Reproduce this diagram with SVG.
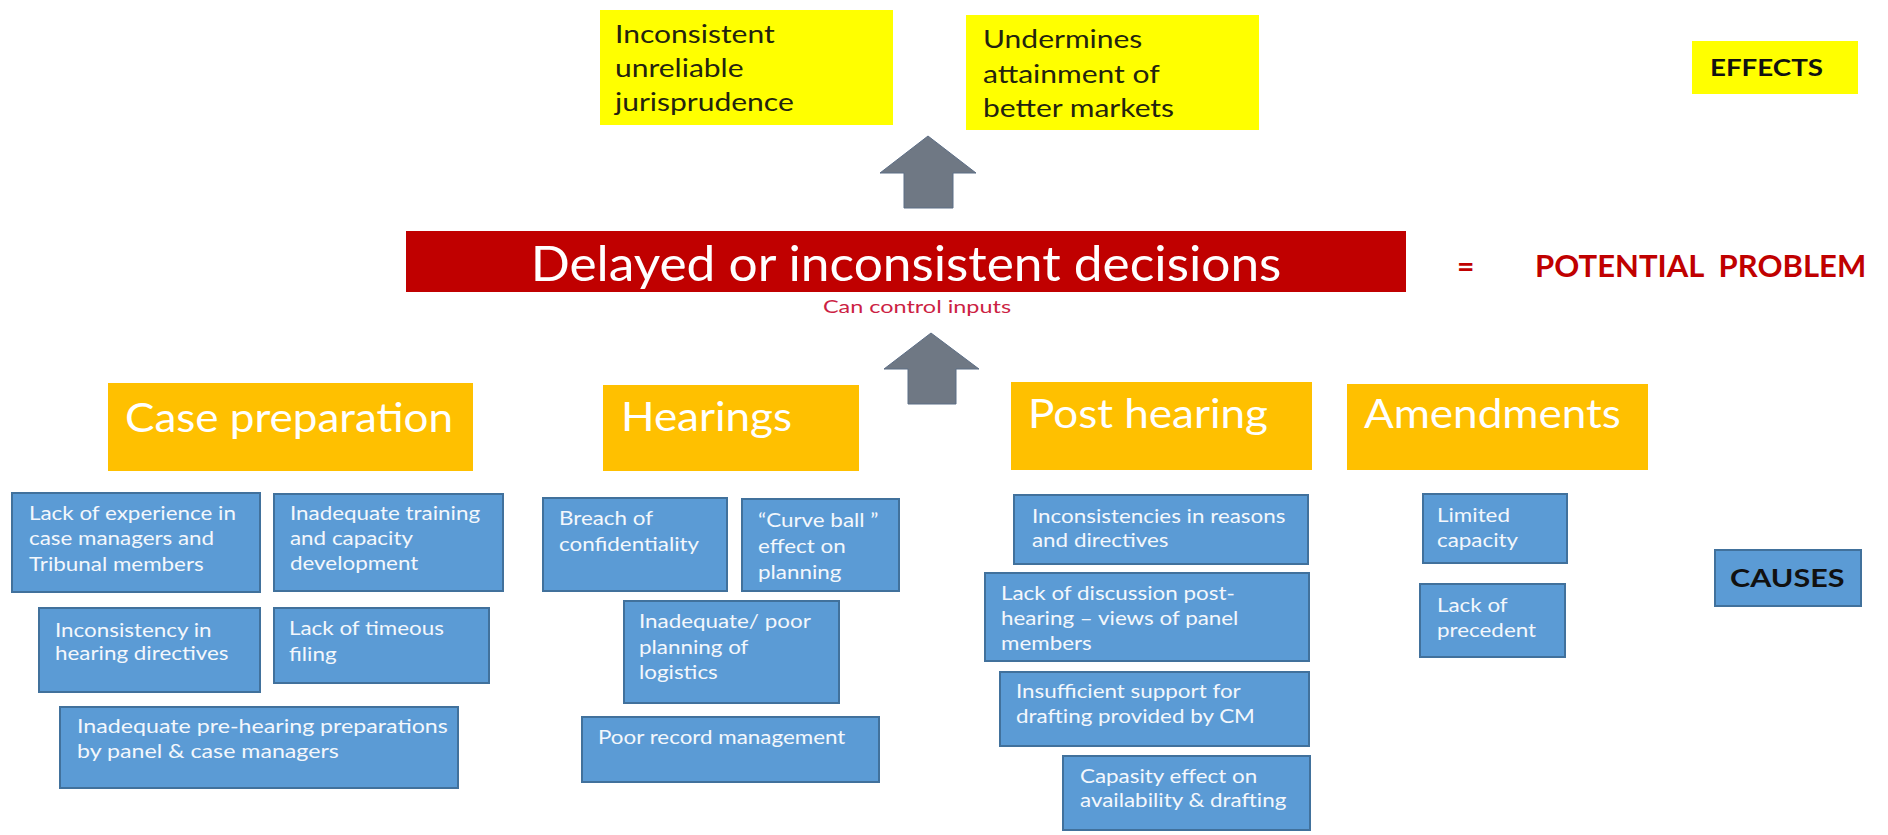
<svg xmlns="http://www.w3.org/2000/svg" width="1888" height="835" viewBox="0 0 1888 835">
  <style>
    .effect { fill: #ffff00; }
    .cat { fill: #ffc000; }
    .cause { fill: #5b9bd5; stroke: #41719c; stroke-width: 2; }
    .yt { font-family: Lato, "Open Sans", sans-serif; font-size: 25px; fill: #23230f; }
    .ot { font-family: Lato, "Open Sans", sans-serif; font-size: 40px; fill: #ffffff; }
    .bt { font-family: Lato, "Open Sans", sans-serif; font-size: 20px; fill: #f3f7fc; }
    .lbl { font-family: Lato, "Open Sans", sans-serif; font-weight: bold; }
    .arrow { fill: #6f7884; stroke: #5d6e86; stroke-width: 1; }
  </style>

  <rect width="1888" height="835" fill="#ffffff"/>

  <!-- effects row -->
  <g id="effect-jurisprudence">
    <rect class="effect" x="600" y="10" width="293" height="115"/>
    <text class="yt" transform="translate(615 43) scale(1.2 1)"><tspan x="0">Inconsistent</tspan><tspan x="0" y="34">unreliable</tspan><tspan x="0" y="68">jurisprudence</tspan></text>
  </g>
  <g id="effect-markets">
    <rect class="effect" x="966" y="15" width="293" height="115"/>
    <text class="yt" transform="translate(983 48) scale(1.2 1)"><tspan x="0">Undermines</tspan><tspan x="0" y="35">attainment of</tspan><tspan x="0" y="69">better markets</tspan></text>
  </g>
  <g id="label-effects">
    <rect class="effect" x="1692" y="41" width="166" height="53"/>
    <text class="lbl" font-size="23.5" fill="#111111" transform="translate(1710 76) scale(1.18 1)">EFFECTS</text>
  </g>

  <!-- central problem -->
  <g id="problem">
    <rect x="406" y="231" width="1000" height="61" fill="#c00000"/>
    <text font-family="Lato, 'Open Sans', sans-serif" font-size="49" fill="#ffffff" text-anchor="middle" transform="translate(906 281) scale(1.05 1)">Delayed or inconsistent decisions</text>
    <text font-family="Lato, 'Open Sans', sans-serif" font-size="16.5" fill="#cc1f44" text-anchor="middle" transform="translate(917 313) scale(1.42 1)">Can control inputs</text>
  </g>
  <g id="label-potential-problem">
    <text class="lbl" font-size="30" fill="#c00000" x="1457" y="277">=</text>
    <text class="lbl" font-size="30" fill="#c00000" style="white-space:pre" transform="translate(1535 277) scale(1.035 1)">POTENTIAL  PROBLEM</text>
  </g>

  <!-- connectors -->
  <g id="connectors">
    <path class="arrow" d="M928,136 L976,173 L953,173 L953,208 L904,208 L904,173 L880,173 Z"/>
    <path class="arrow" d="M931,333 L979,369 L956,369 L956,404 L908,404 L908,369 L884,369 Z"/>
  </g>

  <!-- cause categories -->
  <g id="cat-case-preparation">
    <rect class="cat" x="108" y="383" width="365" height="88"/>
    <text class="ot" transform="translate(125 432) scale(1.1 1)">Case preparation</text>
  </g>
  <g id="cat-hearings">
    <rect class="cat" x="603" y="385" width="256" height="86"/>
    <text class="ot" transform="translate(621 431) scale(1.1 1)">Hearings</text>
  </g>
  <g id="cat-post-hearing">
    <rect class="cat" x="1011" y="382" width="301" height="88"/>
    <text class="ot" transform="translate(1028 428) scale(1.1 1)">Post hearing</text>
  </g>
  <g id="cat-amendments">
    <rect class="cat" x="1347" y="384" width="301" height="86"/>
    <text class="ot" transform="translate(1364 428) scale(1.1 1)">Amendments</text>
  </g>

  <!-- case preparation causes -->
  <g id="cause-experience">
    <rect class="cause" x="12" y="493" width="248" height="99"/>
    <text class="bt" transform="translate(29 520) scale(1.12 1)"><tspan x="0">Lack of experience in</tspan><tspan x="0" y="25">case managers and</tspan><tspan x="0" y="51">Tribunal members</tspan></text>
  </g>
  <g id="cause-training">
    <rect class="cause" x="274" y="494" width="229" height="97"/>
    <text class="bt" transform="translate(290 520) scale(1.12 1)"><tspan x="0">Inadequate training</tspan><tspan x="0" y="25">and capacity</tspan><tspan x="0" y="50">development</tspan></text>
  </g>
  <g id="cause-directives">
    <rect class="cause" x="39" y="608" width="221" height="84"/>
    <text class="bt" transform="translate(55 637) scale(1.12 1)"><tspan x="0">Inconsistency in</tspan><tspan x="0" y="23">hearing directives</tspan></text>
  </g>
  <g id="cause-filing">
    <rect class="cause" x="274" y="608" width="215" height="75"/>
    <text class="bt" transform="translate(289 635) scale(1.12 1)"><tspan x="0">Lack of timeous</tspan><tspan x="0" y="26">filing</tspan></text>
  </g>
  <g id="cause-prehearing">
    <rect class="cause" x="60" y="707" width="398" height="81"/>
    <text class="bt" transform="translate(77 733) scale(1.16 1)"><tspan x="0">Inadequate pre-hearing preparations</tspan><tspan x="0" y="25">by panel &amp; case managers</tspan></text>
  </g>

  <!-- hearings causes -->
  <g id="cause-confidentiality">
    <rect class="cause" x="543" y="498" width="184" height="93"/>
    <text class="bt" transform="translate(559 525) scale(1.12 1)"><tspan x="0">Breach of</tspan><tspan x="0" y="26">confidentiality</tspan></text>
  </g>
  <g id="cause-curve-ball">
    <rect class="cause" x="742" y="499" width="157" height="92"/>
    <text class="bt" transform="translate(758 527) scale(1.12 1)"><tspan x="0">“Curve ball ”</tspan><tspan x="0" y="26">effect on</tspan><tspan x="0" y="52">planning</tspan></text>
  </g>
  <g id="cause-logistics">
    <rect class="cause" x="624" y="601" width="215" height="102"/>
    <text class="bt" transform="translate(639 628) scale(1.12 1)"><tspan x="0">Inadequate/ poor</tspan><tspan x="0" y="26">planning of</tspan><tspan x="0" y="51">logistics</tspan></text>
  </g>
  <g id="cause-records">
    <rect class="cause" x="582" y="717" width="297" height="65"/>
    <text class="bt" transform="translate(598 744) scale(1.12 1)">Poor record management</text>
  </g>

  <!-- post hearing causes -->
  <g id="cause-reasons">
    <rect class="cause" x="1014" y="495" width="294" height="69"/>
    <text class="bt" transform="translate(1032 523) scale(1.12 1)"><tspan x="0">Inconsistencies in reasons</tspan><tspan x="0" y="24">and directives</tspan></text>
  </g>
  <g id="cause-discussion">
    <rect class="cause" x="985" y="573" width="324" height="88"/>
    <text class="bt" transform="translate(1001 600) scale(1.12 1)"><tspan x="0">Lack of discussion post-</tspan><tspan x="0" y="25">hearing – views of panel</tspan><tspan x="0" y="50">members</tspan></text>
  </g>
  <g id="cause-drafting-support">
    <rect class="cause" x="1000" y="672" width="309" height="74"/>
    <text class="bt" transform="translate(1016 698) scale(1.12 1)"><tspan x="0">Insufficient support for</tspan><tspan x="0" y="25">drafting provided by CM</tspan></text>
  </g>
  <g id="cause-capacity-effect">
    <rect class="cause" x="1063" y="756" width="247" height="74"/>
    <text class="bt" transform="translate(1080 783) scale(1.12 1)"><tspan x="0">Capasity effect on</tspan><tspan x="0" y="24">availability &amp; drafting</tspan></text>
  </g>

  <!-- amendments causes -->
  <g id="cause-limited-capacity">
    <rect class="cause" x="1423" y="494" width="144" height="69"/>
    <text class="bt" transform="translate(1437 522) scale(1.12 1)"><tspan x="0">Limited</tspan><tspan x="0" y="25">capacity</tspan></text>
  </g>
  <g id="cause-precedent">
    <rect class="cause" x="1420" y="584" width="145" height="73"/>
    <text class="bt" transform="translate(1437 612) scale(1.12 1)"><tspan x="0">Lack of</tspan><tspan x="0" y="25">precedent</tspan></text>
  </g>

  <g id="label-causes">
    <rect class="cause" x="1715" y="550" width="146" height="56"/>
    <text class="lbl" font-size="25" fill="#111111" transform="translate(1730 587) scale(1.22 1)">CAUSES</text>
  </g>
</svg>
